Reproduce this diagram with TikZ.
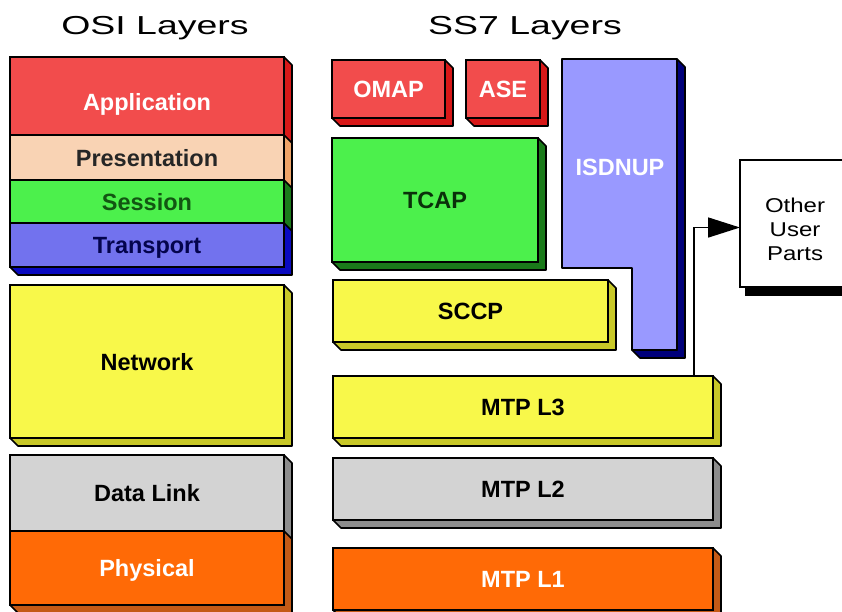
\documentclass[tikz,border=0pt]{standalone}
\usepackage{fontspec}
\setmainfont{Liberation Sans}
\newfontfamily\titlefont[FakeStretch=1.44]{Liberation Sans}
\newfontfamily\partsfont[FakeStretch=1.2]{Liberation Sans}
\usetikzlibrary{arrows.meta,backgrounds}

\definecolor{appRed}{HTML}{F24C4C}
\definecolor{appRedD}{HTML}{D81818}
\definecolor{peach}{HTML}{F9D3B4}
\definecolor{peachD}{HTML}{EFA468}
\definecolor{layerGreen}{HTML}{4CF04C}
\definecolor{layerGreenD}{HTML}{1A7A1A}
\definecolor{violet}{HTML}{7272EE}
\definecolor{violetD}{HTML}{0A0AC0}
\definecolor{layerYellow}{HTML}{F8F84A}
\definecolor{layerYellowD}{HTML}{C8C828}
\definecolor{layerGrey}{HTML}{D3D3D3}
\definecolor{layerGreyD}{HTML}{8C8C8C}
\definecolor{layerOrange}{HTML}{FF6A06}
\definecolor{layerOrangeD}{HTML}{C45A16}
\definecolor{lilac}{HTML}{9999FF}
\definecolor{lilacD}{HTML}{00007A}

\begin{document}
\begin{tikzpicture}[
x=1pt, y=-1pt,
title/.style={
font=\titlefont\fontsize{26}{30}\selectfont
},
box/.style={
rectangle,
draw,
line width=1.6pt,
anchor=north west,
inner sep=0pt,
outer sep=0pt
},
layer/.style={
box,
text height=17pt,
text depth=0pt,
font=\bfseries\fontsize{23.5}{26}\selectfont
},
osi/.style={
layer,
minimum width=274pt
},
face/.style={
draw,
line width=1.6pt,
line join=round
},
link/.style={
-{Triangle[length=32pt,width=20pt]},
line width=1.6pt
}
]
\useasboundingbox (0,0) rectangle (842,611);

% Titles
\node[title] (osi-title) at (155,28) {OSI Layers};
\node[title] (ss7-title) at (525,28) {SS7 Layers};

% OSI layers
\node[osi, fill=appRed, text=white, minimum height=78pt, text height=29pt] (osi-application) at (10,57) {Application};
\node[osi, fill=peach, text=black!85, minimum height=45pt] (osi-presentation) at (10,135) {Presentation};
\node[osi, fill=layerGreen, text=layerGreenD!70!black, minimum height=43pt] (osi-session) at (10,180) {Session};
\node[osi, fill=violet, text=violetD!40!black, minimum height=44pt] (osi-transport) at (10,223) {Transport};
\node[osi, fill=layerYellow, text=black, minimum height=153pt] (osi-network) at (10,285) {Network};
\node[osi, fill=layerGrey, text=black, minimum height=76pt] (osi-data-link) at (10,455) {Data Link};
\node[osi, fill=layerOrange, text=white, minimum height=74pt] (osi-physical) at (10,531) {Physical};

% SS7 layers
\node[layer, fill=appRed, text=white, minimum width=113pt, minimum height=58pt] (ss7-omap) at (332,60) {OMAP};
\node[layer, fill=appRed, text=white, minimum width=74pt, minimum height=58pt] (ss7-ase) at (466,60) {ASE};
\node[layer, fill=layerGreen, text=layerGreenD!40!black, minimum width=206pt, minimum height=124pt] (ss7-tcap) at (332,138) {TCAP};
\node[layer, fill=layerYellow, text=black, minimum width=275pt, minimum height=62pt] (ss7-sccp) at (333,280) {SCCP};
\node[layer, fill=layerYellow, text=black, minimum width=380pt, minimum height=62pt] (ss7-mtp-l3) at (333,376) {MTP L3};
\node[layer, fill=layerGrey, text=black, minimum width=380pt, minimum height=62pt] (ss7-mtp-l2) at (333,458) {MTP L2};
\node[layer, fill=layerOrange, text=white, minimum width=380pt, minimum height=62pt] (ss7-mtp-l1) at (333,548) {MTP L1};
\filldraw[face, fill=lilac] (562,59) -- (677,59) -- (677,350) -- (632,350) -- (632,268) -- (562,268) -- cycle;
\node[font=\bfseries\fontsize{23.5}{26}\selectfont, text=white] (ss7-isdnup) at (620,167) {ISDNUP};

% Other user parts
\node[box, fill=white, minimum width=110pt, minimum height=127pt] (other-parts) at (740,160) {};
\node[align=center, font=\partsfont\fontsize{20}{24}\selectfont] (other-parts-text)
  at ([yshift=-6pt]other-parts.center) {Other\\User\\Parts};

% Depth faces
\begin{scope}[on background layer]
\foreach \n/\c in {osi-application/appRedD, osi-presentation/peachD, osi-session/layerGreenD,
  osi-transport/violetD, osi-network/layerYellowD, osi-data-link/layerGreyD, osi-physical/layerOrangeD,
  ss7-omap/appRedD, ss7-ase/appRedD, ss7-tcap/layerGreenD, ss7-sccp/layerYellowD,
  ss7-mtp-l3/layerYellowD, ss7-mtp-l2/layerGreyD, ss7-mtp-l1/layerOrangeD}
  \filldraw[face, fill=\c] (\n.north east) -- ([shift={(8pt,-8pt)}]\n.north east)
    -- ([shift={(8pt,-8pt)}]\n.south east) -- ([shift={(8pt,-8pt)}]\n.south west)
    -- (\n.south west) -- (\n.south east) -- cycle;
\filldraw[face, fill=lilacD] (677,59) -- (685,67) -- (685,358) -- (640,358) -- (632,350) -- (677,350) -- cycle;
\fill[black] ([shift={(5pt,-9pt)}]other-parts.north west) rectangle ([shift={(8pt,-9pt)}]other-parts.south east);
\end{scope}

% Connector
\draw[link] ([xshift=-19pt]ss7-mtp-l3.north east) |- ([yshift=-4pt]other-parts.west);
\end{tikzpicture}
\end{document}
